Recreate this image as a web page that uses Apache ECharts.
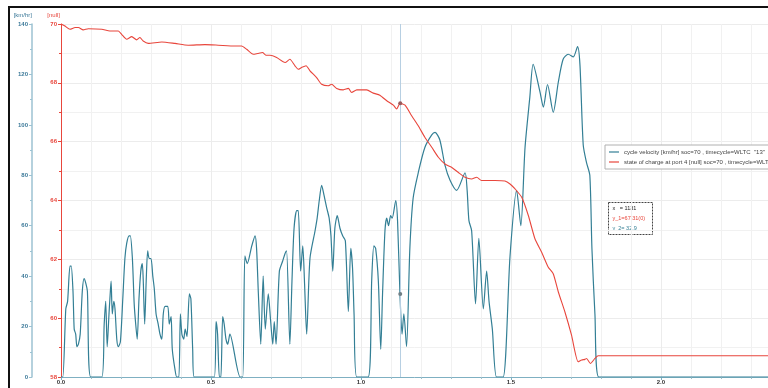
<!DOCTYPE html>
<html>
<head>
<meta charset="utf-8">
<script src="https://cdn.jsdelivr.net/npm/echarts@6/dist/echarts.min.js"></script>
<style>
  html, body { margin: 0; padding: 0; background: #fff; }
  #chart { width: 768px; height: 388px; }
</style>
</head>
<body>
<div id="chart"></div>
<script>
// time axis (x) in thousands of seconds
const speedTime = [
  0, 0.006, 0.016, 0.022, 0.030, 0.034, 0.040, 0.044, 0.049, 0.053, 0.058, 0.064, 0.071, 0.077, 0.083, 0.088, 0.099,
  0.136, 0.144, 0.149, 0.154, 0.160, 0.163, 0.167, 0.171, 0.176, 0.180, 0.186, 0.191, 0.198, 0.206, 0.213, 0.219,
  0.227, 0.231, 0.238, 0.244, 0.249, 0.254, 0.260, 0.266, 0.271, 0.274, 0.279, 0.284, 0.289, 0.294, 0.300, 0.306,
  0.311, 0.317, 0.324, 0.330, 0.336, 0.341, 0.347, 0.356, 0.361, 0.367, 0.371, 0.380, 0.386, 0.393, 0.398, 0.403,
  0.409, 0.414, 0.420, 0.428, 0.433, 0.439, 0.444, 0.511, 0.517, 0.522, 0.528, 0.533, 0.539, 0.544, 0.550, 0.556,
  0.563, 0.597, 0.606, 0.613, 0.621, 0.636, 0.647, 0.652, 0.658, 0.666, 0.674, 0.681, 0.691, 0.699, 0.706, 0.711,
  0.717, 0.728, 0.739, 0.747, 0.752, 0.763, 0.770, 0.777, 0.786, 0.791, 0.799, 0.806, 0.812, 0.819, 0.830, 0.847,
  0.854, 0.861, 0.869, 0.877, 0.886, 0.894, 0.900, 0.906, 0.913, 0.921, 0.930, 0.939, 0.948, 0.958, 0.966, 0.972,
  0.977, 0.986, 1.024, 1.036, 1.043, 1.049, 1.058, 1.066, 1.072, 1.080, 1.086, 1.092, 1.099, 1.104, 1.116, 1.122,
  1.130, 1.137, 1.143, 1.152, 1.163, 1.174, 1.191, 1.213, 1.236, 1.247, 1.263, 1.280, 1.297, 1.319, 1.347, 1.354,
  1.360, 1.369, 1.382, 1.393, 1.408, 1.419, 1.427, 1.438, 1.452, 1.474, 1.497, 1.519, 1.533, 1.547, 1.563, 1.574,
  1.597, 1.608, 1.622, 1.641, 1.658, 1.674, 1.691, 1.708, 1.722, 1.730, 1.741, 1.752, 1.763, 1.770, 1.780, 1.793,
  2.357
];
const speedKmh = [
  0, 0, 27, 30, 44, 44, 34, 19, 17, 12, 13, 17, 34, 39, 37, 34, 0,
  0, 21, 30, 12, 25, 31, 38, 25, 30, 27, 15, 12, 14, 31, 47, 53,
  56, 56, 47, 29, 21, 15, 31, 42, 45, 39, 21, 38, 50, 47, 47, 40,
  35, 25, 21, 17, 15, 25, 28, 28, 21, 24, 11, 3, 0, 0, 25, 17,
  15, 19, 16, 33, 31, 11, 0, 0, 22, 17, 0, 0, 24, 21, 15, 13,
  17, 0, 0, 48, 45, 52, 56, 51, 33, 13, 40, 19, 33, 22, 13, 22,
  13, 42, 46, 49, 50, 13, 38, 59, 66, 66, 42, 52, 37, 17, 47, 58,
  63, 70, 76, 72, 67, 63, 56, 42, 59, 64, 59, 56, 54, 26, 51, 43,
  25, 0, 0, 39, 52, 51, 38, 11, 33, 58, 63, 60, 64, 63, 70, 62,
  33, 17, 25, 12, 51, 71, 81, 91, 96, 97, 94, 84, 78, 74, 81, 74,
  62, 58, 29, 55, 27, 42, 30, 19, 0, 0, 48, 74, 60, 91, 111, 124,
  113, 107, 116, 105, 117, 126, 128, 127, 131, 124, 92, 85, 80, 51, 25, 0,
  0
];

const socTime = [
  0, 0.013, 0.030, 0.047, 0.058, 0.074, 0.091, 0.136, 0.163, 0.191, 0.202, 0.219, 0.236, 0.252, 0.263, 0.274,
  0.291, 0.336, 0.380, 0.424, 0.480, 0.524, 0.580, 0.602, 0.619, 0.641, 0.656, 0.672, 0.683, 0.697, 0.719, 0.747,
  0.763, 0.780, 0.791, 0.802, 0.817, 0.830, 0.852, 0.869, 0.891, 0.902, 0.919, 0.941, 0.958, 0.969, 0.986, 1.019,
  1.041, 1.063, 1.086, 1.108, 1.119, 1.130, 1.147, 1.169, 1.191, 1.213, 1.236, 1.258, 1.280, 1.302, 1.324, 1.347,
  1.369, 1.386, 1.402, 1.447, 1.480, 1.497, 1.513, 1.536, 1.558, 1.580, 1.602, 1.624, 1.641, 1.658, 1.680, 1.702,
  1.724, 1.736, 1.747, 1.752, 1.765, 1.780, 1.791, 2.357
];
const socValue = [
  70.0, 69.93, 69.82, 69.88, 69.88, 69.80, 69.84, 69.82, 69.76, 69.76, 69.65, 69.48, 69.57, 69.46, 69.54, 69.42,
  69.34, 69.39, 69.34, 69.28, 69.30, 69.28, 69.25, 69.25, 69.14, 68.97, 69.00, 69.03, 68.94, 68.94, 68.86, 68.69,
  68.80, 68.58, 68.46, 68.52, 68.58, 68.41, 68.18, 67.95, 67.90, 67.95, 67.81, 67.76, 67.81, 67.67, 67.76, 67.76,
  67.65, 67.58, 67.39, 67.24, 67.11, 67.30, 67.24, 66.88, 66.54, 66.15, 65.81, 65.47, 65.24, 65.13, 64.96, 64.79,
  64.73, 64.79, 64.68, 64.68, 64.66, 64.56, 64.40, 64.11, 63.49, 62.70, 62.25, 61.74, 61.51, 60.89, 60.21, 59.42,
  58.52, 58.58, 58.60, 58.63, 58.46, 58.63, 58.72, 58.72
];

// cursor readout
const cursorX = 1.131;
const cursorSoc = 67.31;
const cursorSpeed = 32.9;
const cursorLines = ['x   = 1131', 'y_1=67.31(0)', 'y_2= 32.9'];

const speedName = 'cycle velocity [km/hr] soc=70 , timecycle=WLTC  "13"';
const socName = 'state of charge at port 4 [null] soc=70 , timecycle=WLTC  "13"';
const speedUnit = '[km/hr]';
const socUnit = '[null]';

const blue = '#337f95';
const axisBlue = '#3a7898';
const speedAxisLine = '#9cc2d2';
const red = '#e8463c';
const gridColor = '#ececec';

const chart = echarts.init(document.getElementById('chart'), null, { renderer: 'canvas' });

chart.setOption({
  animation: false,
  backgroundColor: '#fff',
  textStyle: { fontFamily: 'Liberation Sans' },
  grid: { left: 61, right: 0, top: 24, bottom: 11, containLabel: false },
  legend: {
    orient: 'vertical',
    left: 605,
    top: 145,
    backgroundColor: '#fff',
    borderColor: '#b0b0b0',
    borderWidth: 1,
    padding: [4, 4],
    itemGap: 4,
    icon: 'rect',
    itemWidth: 10,
    itemHeight: 1.2,
    textStyle: { fontSize: 6, color: '#444' },
    data: [speedName, socName]
  },
  xAxis: {
    type: 'value',
    min: 0,
    max: 2.357,
    interval: 0.5,
    axisLine: { onZero: false, lineStyle: { color: '#7fb0c2', width: 1 } },
    axisTick: { show: true, length: 3, lineStyle: { color: '#7fb0c2' } },
    minorTick: { show: true, splitNumber: 5, length: 2, lineStyle: { color: '#9fc0cc' } },
    splitLine: { show: true, lineStyle: { color: gridColor } },
    minorSplitLine: { show: true, lineStyle: { color: '#f1f1f1' } },
    axisLabel: {
      showMaxLabel: false,
      margin: 2,
      fontSize: 6,
      fontWeight: 'bold',
      color: '#333',
      formatter: v => v.toFixed(1)
    }
  },
  yAxis: [
    {
      type: 'value',
      position: 'left',
      offset: 29,
      min: 0,
      max: 140,
      interval: 20,
      axisLine: { show: true, onZero: false, lineStyle: { color: speedAxisLine, width: 1.5 } },
      axisTick: { show: true, length: 3, lineStyle: { color: speedAxisLine } },
      minorTick: { show: true, splitNumber: 2, length: 2, lineStyle: { color: speedAxisLine } },
      splitLine: { show: false },
      axisLabel: { margin: 4, fontSize: 6, fontWeight: 'bold', color: axisBlue }
    },
    {
      type: 'value',
      position: 'left',
      offset: 0,
      min: 58,
      max: 70,
      interval: 2,
      axisLine: { show: true, onZero: false, lineStyle: { color: red, width: 1 } },
      axisTick: { show: true, length: 3, lineStyle: { color: red } },
      minorTick: { show: true, splitNumber: 2, length: 2, lineStyle: { color: red } },
      splitLine: { show: true, lineStyle: { color: gridColor } },
      minorSplitLine: { show: true, lineStyle: { color: '#f1f1f1' } },
      axisLabel: { margin: 4, fontSize: 6, fontWeight: 'bold', color: red }
    }
  ],
  series: [
    {
      name: speedName,
      type: 'line',
      yAxisIndex: 0,
      data: speedTime.map((t, i) => [t, speedKmh[i]]),
      symbol: 'none',
      smooth: 0.25,
      lineStyle: { color: blue, width: 1.2 },
      itemStyle: { color: blue },
      z: 3,
      markLine: {
        silent: true,
        symbol: 'none',
        label: { show: false },
        lineStyle: { color: '#b7cfe2', width: 1, type: 'solid' },
        data: [{ xAxis: cursorX }]
      },
      markPoint: {
        symbol: 'circle',
        symbolSize: 4,
        label: { show: false },
        itemStyle: { color: '#6f7f86' },
        data: [{ coord: [cursorX, cursorSpeed] }]
      }
    },
    {
      name: socName,
      type: 'line',
      yAxisIndex: 1,
      data: socTime.map((t, i) => [t, socValue[i]]),
      symbol: 'none',
      smooth: 0.2,
      lineStyle: { color: red, width: 1.1 },
      itemStyle: { color: red },
      z: 4,
      markPoint: {
        symbol: 'circle',
        symbolSize: 4,
        label: { show: false },
        itemStyle: { color: '#9a5a5a' },
        data: [{ coord: [cursorX, cursorSoc] }]
      }
    }
  ],
  graphic: [
    {
      type: 'rect',
      z: 100,
      shape: { x: 9, y: 7, width: 900, height: 500 },
      style: { fill: 'none', stroke: '#111', lineWidth: 2 }
    },
    {
      type: 'text',
      x: 32, y: 15, z: 100,
      style: { text: speedUnit, fontSize: 6, fill: axisBlue, align: 'right', verticalAlign: 'middle', fontFamily: 'Liberation Sans' }
    },
    {
      type: 'text',
      x: 60, y: 15, z: 100,
      style: { text: socUnit, fontSize: 6, fill: red, align: 'right', verticalAlign: 'middle', fontFamily: 'Liberation Sans' }
    },
    {
      type: 'group',
      left: 608,
      top: 202,
      z: 100,
      children: [
        {
          type: 'rect',
          shape: { x: 0, y: 0, width: 44, height: 32 },
          style: { fill: '#fff', stroke: '#444', lineWidth: 1, lineDash: [2, 1] }
        },
        { type: 'text', x: 4, y: 3, style: { text: cursorLines[0], fontSize: 5.5, fill: '#222', fontFamily: 'Liberation Sans' } },
        { type: 'text', x: 4, y: 13, style: { text: cursorLines[1], fontSize: 5.5, fill: red, fontFamily: 'Liberation Sans' } },
        { type: 'text', x: 4, y: 23, style: { text: cursorLines[2], fontSize: 5.5, fill: blue, fontFamily: 'Liberation Sans' } }
      ]
    }
  ]
});
</script>
</body>
</html>
